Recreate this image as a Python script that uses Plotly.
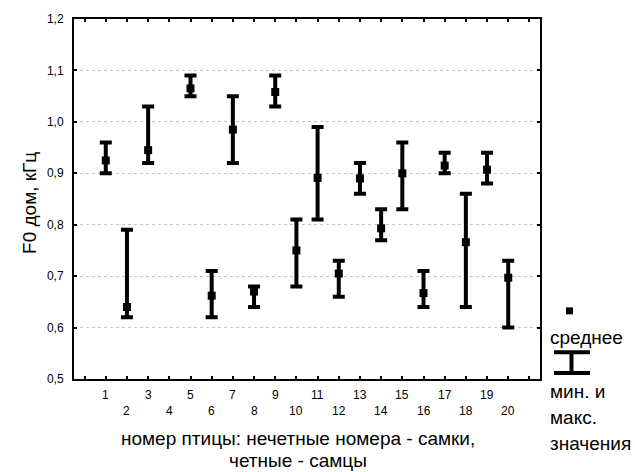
import plotly.graph_objects as go

# Bird numbers and F0 (kHz) statistics; bird 4 has no measurements
birds = list(range(1, 21))
means = [0.925, 0.640, 0.945, None, 1.065, 0.662, 0.985, 0.670, 1.058, 0.750,
         0.891, 0.705, 0.890, 0.793, 0.900, 0.667, 0.915, 0.766, 0.907, 0.697]
mins = [0.90, 0.62, 0.92, None, 1.05, 0.62, 0.92, 0.64, 1.03, 0.68,
        0.81, 0.66, 0.86, 0.77, 0.83, 0.64, 0.90, 0.64, 0.88, 0.60]
maxs = [0.96, 0.79, 1.03, None, 1.09, 0.71, 1.05, 0.68, 1.09, 0.81,
        0.99, 0.73, 0.92, 0.83, 0.96, 0.71, 0.94, 0.86, 0.94, 0.73]

y_ticks = [0.5, 0.6, 0.7, 0.8, 0.9, 1.0, 1.1, 1.2]
x_title = ["номер птицы: нечетные номера - самки,", "четные - самцы"]
y_title = "F0 дом, кГц"
legend_mean = "среднее"
legend_range = ["мин. и", "макс.", "значения"]

FONT = "Liberation Sans, Arial, sans-serif"
TITLE_SIZE = 19
W, H = 635, 472
L, R, T, B = 74, 95, 17, 93
PW, PH = W - L - R, H - T - B


def px(x):
    return (x - L) / PW


def py(y):
    return (H - B - y) / PH


err_plus = [None if m is None else mx - m for m, mx in zip(means, maxs)]
err_minus = [None if m is None else m - mn for m, mn in zip(means, mins)]

fig = go.Figure()
fig.add_trace(go.Scatter(
    x=birds, y=means, mode="markers",
    marker=dict(symbol="square", size=8, color="black"),
    error_y=dict(type="data", symmetric=False, array=err_plus,
                 arrayminus=err_minus, color="black", thickness=4, width=6),
    showlegend=False,
))

title_font = dict(family=FONT, size=TITLE_SIZE, color="black")
annotations = []
# alternating two-row tick labels for the bird numbers
for b in birds:
    annotations.append(dict(
        x=b, y=0, xref="x", yref="paper", text=str(b), showarrow=False,
        xanchor="center", yanchor="middle",
        yshift=-16 if b % 2 else -32,
        font=dict(family=FONT, size=12, color="black")))

annotations.append(dict(x=px(298), y=py(439), xref="paper", yref="paper",
                        text=x_title[0], showarrow=False, xanchor="center",
                        yanchor="middle", font=title_font))
annotations.append(dict(x=px(298), y=py(461), xref="paper", yref="paper",
                        text=x_title[1], showarrow=False, xanchor="center",
                        yanchor="middle", font=title_font))
annotations.append(dict(x=px(30), y=py(202), xref="paper", yref="paper",
                        text=y_title, showarrow=False, textangle=-90,
                        xanchor="center", yanchor="middle", font=title_font))

# legend text
annotations.append(dict(x=px(548), y=py(337), xref="paper", yref="paper",
                        text=legend_mean, showarrow=False, xanchor="left",
                        yanchor="middle", font=title_font))
for txt, yy in zip(legend_range, [392, 418, 444]):
    annotations.append(dict(x=px(548), y=py(yy), xref="paper", yref="paper",
                            text=txt, showarrow=False, xanchor="left",
                            yanchor="middle", font=title_font))

shapes = [
    # legend symbols: mean square and min/max bar
    dict(type="rect", xref="paper", yref="paper",
         x0=px(566), x1=px(573), y0=py(314), y1=py(307),
         fillcolor="black", line=dict(width=0)),
    dict(type="line", xref="paper", yref="paper",
         x0=px(571.5), x1=px(571.5), y0=py(352), y1=py(373),
         line=dict(color="black", width=4)),
    dict(type="line", xref="paper", yref="paper",
         x0=px(554), x1=px(590), y0=py(352), y1=py(352),
         line=dict(color="black", width=4)),
    dict(type="line", xref="paper", yref="paper",
         x0=px(554), x1=px(590), y0=py(373), y1=py(373),
         line=dict(color="black", width=4)),
]

fig.update_layout(
    width=W, height=H,
    margin=dict(l=L, r=R, t=T, b=B),
    paper_bgcolor="white", plot_bgcolor="white",
    separators=", ",
    font=dict(family=FONT, size=12, color="black"),
    annotations=annotations,
    shapes=shapes,
    showlegend=False,
)
fig.update_xaxes(
    range=[-0.5, 21.5], tickvals=list(range(0, 22)),
    ticktext=[""] * 22, ticks="inside", ticklen=3, tickwidth=1.5,
    tickcolor="black", showgrid=False, zeroline=False,
    showline=True, linecolor="black", linewidth=2, mirror="ticks",
)
fig.update_yaxes(
    range=[0.5, 1.2], tickvals=y_ticks, tickformat=".1f",
    ticks="inside", ticklen=3, tickwidth=1.5, tickcolor="black",
    ticklabelstandoff=6,
    showgrid=True, gridcolor="#c4c4c4", griddash="dot", gridwidth=1,
    zeroline=False, showline=True, linecolor="black", linewidth=2,
    mirror="ticks",
    tickfont=dict(family=FONT, size=12, color="black"),
)

fig.write_html("out.html")
